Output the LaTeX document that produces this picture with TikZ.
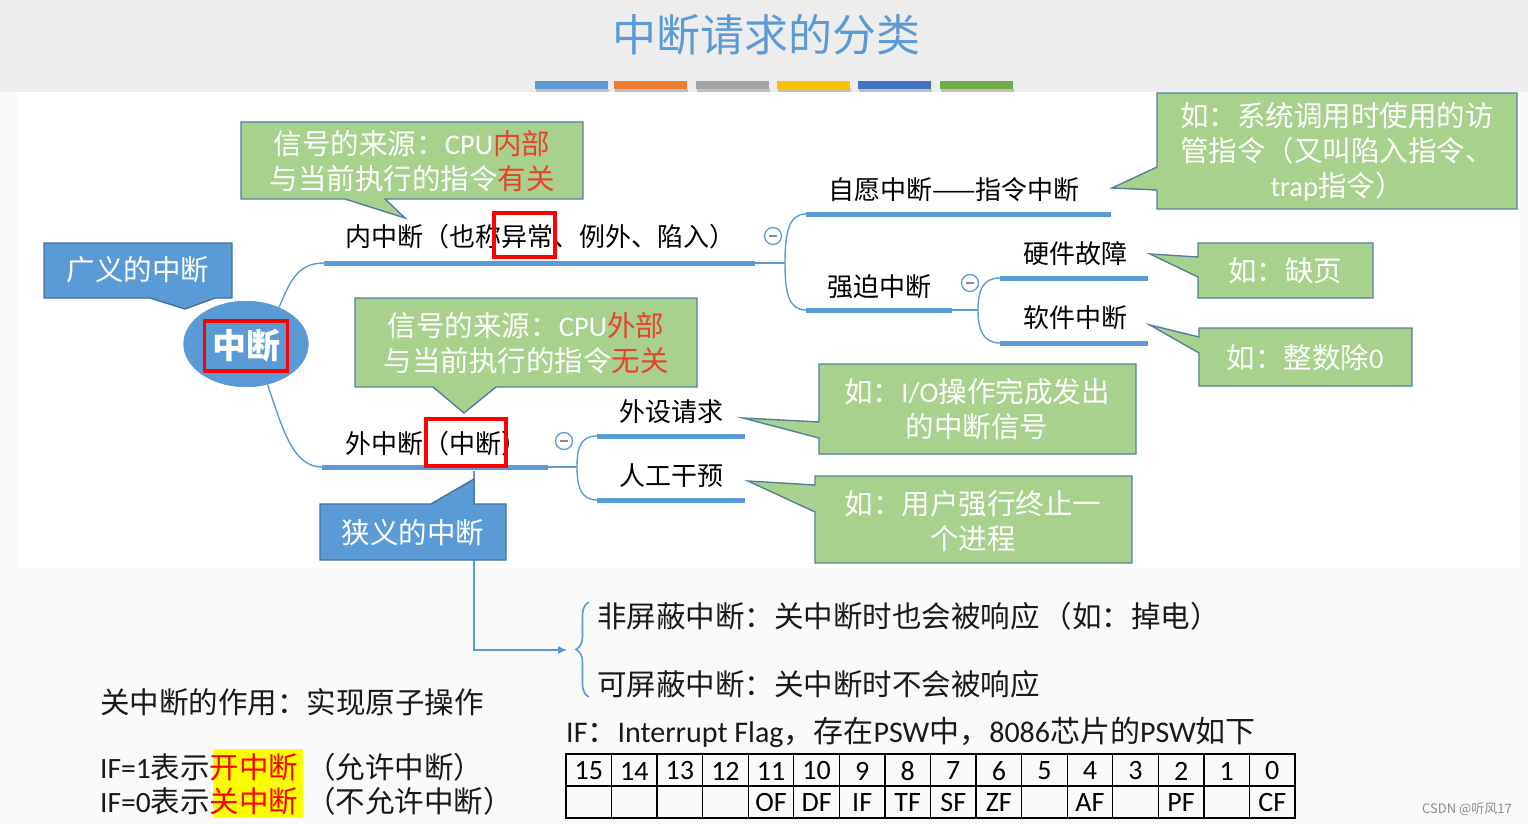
\documentclass[tikz,border=0pt]{standalone}
\usepackage{fontspec}
\setmainfont{Noto Sans CJK SC}
\newfontfamily\latf{Carlito}
\usetikzlibrary{shapes.geometric,decorations.pathreplacing,arrows.meta}
\definecolor{tblue}{HTML}{5B9BD5}
\definecolor{bborder}{HTML}{41719C}
\definecolor{cgreen}{HTML}{A9D18E}
\definecolor{gborder}{HTML}{54809E}
\definecolor{cred}{HTML}{E8412C}
\definecolor{bgtop}{HTML}{EDEDED}
\definecolor{bglow}{HTML}{FAFAFA}
\definecolor{barA}{HTML}{5B9BD5}
\definecolor{barB}{HTML}{ED7D31}
\definecolor{barC}{HTML}{A5A5A5}
\definecolor{barD}{HTML}{FFC000}
\definecolor{barE}{HTML}{4472C4}
\definecolor{barF}{HTML}{70AD47}
\definecolor{hlyellow}{HTML}{FFFF00}
\newcommand\ltn[1]{{\latf #1}}
\begin{document}
\begin{tikzpicture}[x=1pt,y=-1pt,
  lbl/.style={anchor=west, inner sep=0pt, font=\fontsize{26pt}{30pt}\selectfont, text=black},
  uline/.style={draw=tblue, line width=5pt},
  branch/.style={draw=tblue, line width=1.4pt},
  gco/.style={fill=cgreen, draw=gborder, line width=1.4pt, line join=miter},
  bco/.style={fill=tblue, draw=bborder, line width=1.4pt, line join=miter},
  ctxt/.style={text=white, align=center, inner sep=0pt, font=\fontsize{28.5pt}{35pt}\selectfont},
  redbox/.style={draw=red, line width=3.5pt, inner sep=0pt},
  minus/.style={circle, draw=tblue, line width=1.3pt, minimum size=17pt, inner sep=0pt},
  btxt/.style={anchor=west, inner sep=0pt, text=black!90, font=\fontsize{29.5pt}{34pt}\selectfont},
  tnum/.style={inner sep=0pt, font=\latf\fontsize{28pt}{30pt}\selectfont},
  tline/.style={draw=black, line width=1.3pt}
]
\useasboundingbox (0,0) rectangle (1528,824);
% backgrounds
\fill[bglow] (0,0) rectangle (1528,824);
\fill[bgtop] (0,0) rectangle (1528,92);
\fill[white] (17,92) rectangle (1520,568);

% title
\node[font=\fontsize{44pt}{48pt}\selectfont, text=tblue, inner sep=0pt] (title) at (766,35) {中断请求的分类};
\foreach \x/\c in {535/barA,614/barB,696/barC,777/barD,858/barE,940/barF}{
  \fill[black!25] (\x+1,89) rectangle ++(73,3);
  \fill[\c] (\x,81) rectangle ++(73,8);
}

% ---------- callouts ----------
% A: CPU internal
\filldraw[gco] (241,122) -- (583,122) -- (583,199) -- (385,199) -- (405,218) -- (345,199) -- (241,199) -- cycle;
\node[ctxt] (ca) at (412,161) {信号的来源：\ltn{CPU}\textcolor{cred}{内部}\\与当前执行的指令\textcolor{cred}{有关}};
% B: trap
\filldraw[gco] (1157,93) -- (1517,93) -- (1517,209) -- (1157,209) -- (1157,190) -- (1112,188) -- (1157,167) -- cycle;
\node[ctxt] (cb) at (1337,152) {如：系统调用时使用的访\\管指令（又叫陷入指令、\\\ltn{trap}指令）};
% C: page fault
\filldraw[gco] (1198,243) -- (1373,243) -- (1373,298) -- (1198,298) -- (1198,277) -- (1150,254) -- (1198,257) -- cycle;
\node[ctxt] (cc) at (1285,271) {如：缺页};
% D: divide by zero
\filldraw[gco] (1199,328) -- (1412,328) -- (1412,386) -- (1199,386) -- (1199,353) -- (1150,325) -- (1199,337) -- cycle;
\node[ctxt] (cd) at (1305,358) {如：整数除\ltn{0}};
% E: CPU external
\filldraw[gco] (355,298) -- (697,298) -- (697,387) -- (496,387) -- (464,413) -- (433,387) -- (355,387) -- cycle;
\node[ctxt] (ce) at (526,343) {信号的来源：\ltn{CPU}\textcolor{cred}{外部}\\与当前执行的指令\textcolor{cred}{无关}};
% F: I/O
\filldraw[gco] (819,364) -- (1136,364) -- (1136,454) -- (819,454) -- (819,438) -- (743,418) -- (819,422) -- cycle;
\node[ctxt] (cf) at (977,409) {如：\ltn{I/O}操作完成发出\\的中断信号};
% G: user
\filldraw[gco] (815,476) -- (1132,476) -- (1132,563) -- (815,563) -- (815,512) -- (748,481) -- (815,485) -- cycle;
\node[ctxt] (cg) at (973,521) {如：用户强行终止一\\个进程};

% ---------- mind map ----------
\coordinate (n1s) at (324,263);
\coordinate (n1e) at (755,263);
\coordinate (n1j) at (785,263);
\coordinate (z1s) at (806,214);
\coordinate (z1e) at (1111,214);
\coordinate (q1s) at (806,310);
\coordinate (q1e) at (952,310);
\coordinate (q1j) at (978,310);
\coordinate (h1s) at (1000,278);
\coordinate (h1e) at (1148,278);
\coordinate (s1s) at (1000,343);
\coordinate (s1e) at (1148,343);
\coordinate (w1s) at (322,467);
\coordinate (w1e) at (548,467);
\coordinate (w1j) at (577,467);
\coordinate (p1s) at (597,436);
\coordinate (p1e) at (745,436);
\coordinate (r1s) at (597,500);
\coordinate (r1e) at (745,500);

\node[ellipse, fill=tblue, minimum width=125pt, minimum height=86pt, inner sep=0pt] (root) at (246,344) {};
\draw[branch] (root.48) .. controls (290,282) and (297,263) .. (n1s);
\draw[branch] (root.-62) .. controls (283,430) and (293,467) .. (w1s);
\node[ellipse, fill=tblue, minimum width=125pt, minimum height=86pt, inner sep=0pt] (rootfill) at (246,344) {};
\node[redbox, minimum width=83pt, minimum height=50pt, text=white, font=\bfseries\fontsize{34pt}{36pt}\selectfont] (rootlbl) at (246,346) {中断};

\draw[uline] (n1s) -- (n1e);
\draw[branch] (n1e) -- (n1j);
\draw[branch] (n1j) .. controls (785,232) and (789,214) .. (z1s);
\draw[branch] (n1j) .. controls (785,294) and (789,310) .. (q1s);
\draw[uline] (z1s) -- (z1e);
\draw[uline] (q1s) -- (q1e);
\draw[branch] (q1e) -- (q1j);
\draw[branch] (q1j) .. controls (978,290) and (983,278) .. (h1s);
\draw[branch] (q1j) .. controls (978,330) and (983,343) .. (s1s);
\draw[uline] (h1s) -- (h1e);
\draw[uline] (s1s) -- (s1e);

% vertical link to the brace (behind the narrow-sense callout)
\coordinate (v0) at (474,471);
\coordinate (br) at (567,650);
\draw[draw=tblue, line width=1.2pt, -{Latex[length=9pt,width=8pt]}] (v0) |- (br);

\draw[uline] (w1s) -- (w1e);
\draw[branch] (w1e) -- (w1j);
\draw[branch] (w1j) .. controls (577,447) and (581,436) .. (p1s);
\draw[branch] (w1j) .. controls (577,487) and (581,500) .. (r1s);
\draw[uline] (p1s) -- (p1e);
\draw[uline] (r1s) -- (r1e);

\node[minus] (m1) at (773,236) {};
\node[minus] (m2) at (970,283) {};
\node[minus] (m3) at (564,441) {};
\foreach \m in {m1,m2,m3}{
  \draw[black!45, line width=1.2pt] ([xshift=-4pt]\m.center) -- ([xshift=4pt]\m.center);
}

\node[lbl] (nei) at (345,237) {内中断（也称异常、例外、陷入）};
\node[lbl] (zy) at (828,190) {自愿中断——指令中断};
\node[lbl] (qp) at (827,287) {强迫中断};
\node[lbl] (yj) at (1023,254) {硬件故障};
\node[lbl] (rj) at (1023,318) {软件中断};
\node[lbl] (wai) at (345,444) {外中断（中断）};
\node[lbl] (ws) at (619,412) {外设请求};
\node[lbl] (rg) at (619,476) {人工干预};

\node[redbox, minimum width=61pt, minimum height=44pt] (rb1) at (524.5,235) {};
\node[redbox, minimum width=80pt, minimum height=47pt] (rb2) at (466,442.5) {};

% blue callouts
\filldraw[bco] (44,243) -- (232,243) -- (232,298) -- (215,298) -- (185,309) -- (150,298) -- (44,298) -- cycle;
\node[ctxt] (gy) at (138,270) {广义的中断};
\filldraw[bco] (320,504) -- (431,504) -- (474,479) -- (474,504) -- (506,504) -- (506,560) -- (320,560) -- cycle;
\node[ctxt] (xy) at (413,533) {狭义的中断};

% ---------- lower part ----------
\draw[decorate, decoration={brace, amplitude=13pt, aspect=0.5}, draw=tblue, line width=1.6pt] (589,697) -- (589,602);
\node[btxt] (fpb) at (597,616) {非屏蔽中断：关中断时也会被响应\hspace{3pt}（如：掉电）};
\node[btxt] (kpb) at (597,684) {可屏蔽中断：关中断时不会被响应};
\node[btxt] (gzd) at (100,702) {关中断的作用：实现原子操作};

\node[fill=hlyellow, minimum width=90pt, minimum height=69pt, inner sep=0pt] (hl) at (258,783.5) {};
\node[btxt] (if1) at (100,767) {\ltn{IF=1}表示\textcolor{red}{开中断}\hspace{8pt}（允许中断）};
\node[btxt] (if0) at (100,801) {\ltn{IF=0}表示\textcolor{red}{关中断}\hspace{8pt}（不允许中断）};

\node[btxt, font=\fontsize{30pt}{34pt}\selectfont] (ifl) at (566,732) {\ltn{IF}：\ltn{Interrupt Flag}，存在\ltn{PSW}中，\ltn{8086}芯片的\ltn{PSW}如下};

% PSW table
\draw[tline] (566,754) rectangle (1295,818);
\draw[tline] (566,786) -- (1295,786);
\draw[black, line width=2.6pt] (566,754) -- (1295,754);
\draw[black, line width=2.4pt] (566,818) -- (1295,818);
\foreach \k in {1,...,15}{
  \draw[tline] ({566+45.5625*\k},754) -- ({566+45.5625*\k},818);
}
\foreach \n [count=\k from 0] in {15,14,...,0}{
  \node[tnum] (c\n) at ({566+45.5625*(\k+0.5)},771) {\n};
}
\foreach \n/\f in {11/OF,10/DF,9/IF,8/TF,7/SF,6/ZF,4/AF,2/PF,0/CF}{
  \node[tnum] (f\n) at ({566+45.5625*(15-\n+0.5)},802.5) {\f};
}

\node[text=black!45, inner sep=0pt, anchor=east, font=\fontsize{13pt}{14pt}\selectfont] (csdn) at (1512,809) {CSDN @听风17};
\end{tikzpicture}
\end{document}
